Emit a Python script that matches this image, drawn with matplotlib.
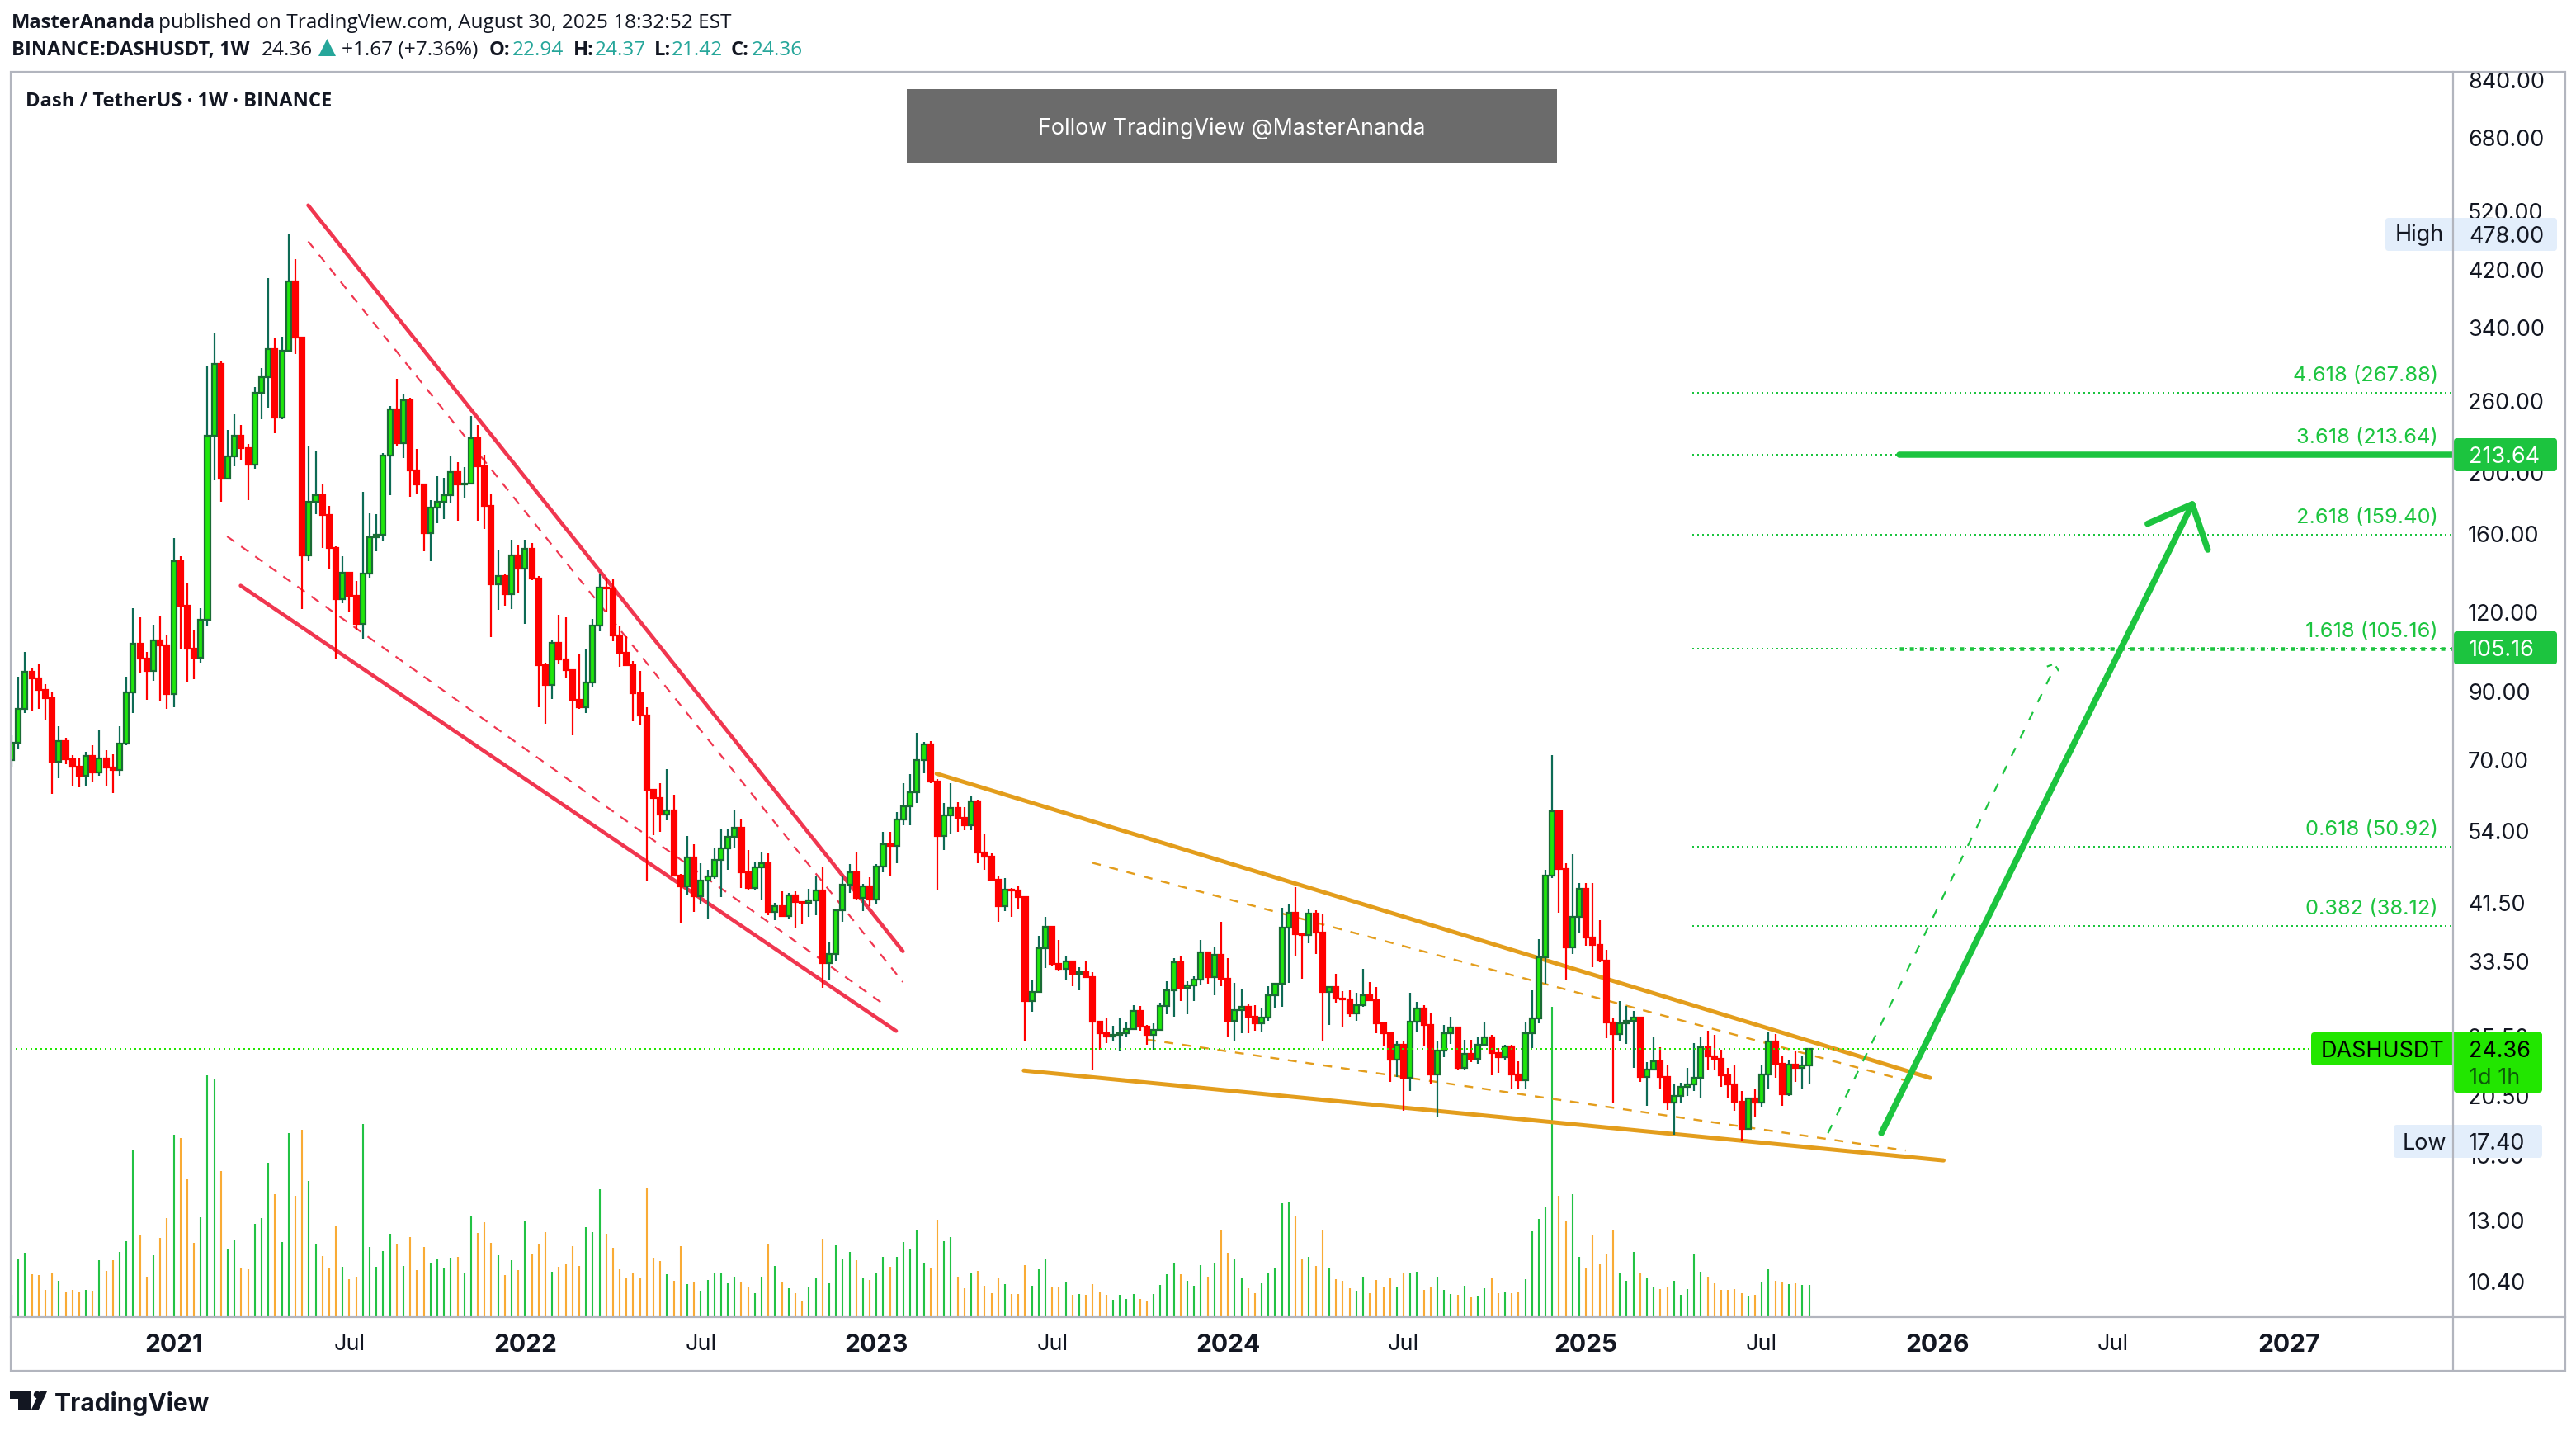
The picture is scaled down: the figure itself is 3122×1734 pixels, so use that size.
import numpy as np
import matplotlib
matplotlib.use('Agg')
import matplotlib.pyplot as plt
from matplotlib.patches import Rectangle, FancyBboxPatch, Polygon, Circle

# weekly candles, DASHUSDT
closes = [74.6,84.4,96.6,94.4,90.5,87.7,69.5,75,70.2,68.3,
    66,71,66.8,70.5,68.2,67.4,74.3,89.7,107,101.4,
    96.9,108.4,106.6,89.1,145,123,105.3,101.7,117,229,
    298,195.5,212.6,229,219,206,267.5,284,314,245,
    312,403,328,148,180,184.5,171.5,152,126,139,
    127.5,115,138.5,158,159.5,213,252,223,261,202,
    191.5,160.5,176,180,184.5,200.5,191.5,192.5,227,205,
    177,133,137,128.5,148,141,151.5,136,99,92,
    107.5,101,97.3,87.3,85,92.9,114.5,131.5,131,110.4,
    103.5,99,89.4,82.4,62.7,61,57.4,58.3,45.9,44.1,
    49,42.5,45,45.8,48.6,50.7,52.9,54.7,46.5,43.8,
    47.3,48,40.2,41,39.6,42.7,41.6,41.5,41.9,43.4,
    33.3,34.4,40.4,44.4,46.4,42.3,44.1,42,47.4,51.4,
    51.2,56.4,59.1,62.2,70,74.1,64.8,53,57.2,58.8,
    56.6,55.2,60.2,49.9,49.2,45.2,41,43.6,43.5,42.4,
    29,30,35.2,38,33.2,32.6,33.5,32,32.2,31.7,
    26.9,25.8,25.5,25.6,25.8,26.2,28,26.4,25.6,26.1,
    28.5,30.2,33.4,30.4,30.7,31.4,34.7,31.7,34.3,31.5,
    27,28.1,28.4,27.4,26.7,27.3,29.6,30.9,37.9,40,
    37,36.9,39.9,37.3,30,30.5,29.3,29.2,27.7,28.6,
    29.6,29.1,26.7,25.8,23.4,24.7,21.9,26.9,28.2,26.6,
    22.2,24.2,25.8,26.3,22.7,23.9,23.5,24.7,25.4,24,
    23.6,24.6,22.2,21.7,25.8,27.2,34,45.9,58,47,
    35.3,39.5,43.7,36.6,35.6,33.6,26.8,25.7,26.7,27,
    27.3,22,22.6,23.3,22,20,20.5,21.2,21.4,21.9,
    24.5,23.7,23.5,22.1,21.4,20.1,18.2,20.3,20,22.2,
    25,23.1,20.6,23,22.69,22.94,24.36]
highs = [76.7,94.9,104,97.8,99.6,92.4,90,79.3,76,71.2,
    70.7,72.2,74,77.9,72.6,71.5,79.3,94.9,122,118,
    104,114.8,118.7,110.4,157.5,147.5,133.4,112.3,122,296,
    334,301,234,248,238,222,274,293,407,328,
    329,478,437,328,220,217,192,177,153,147.5,
    139,134.5,186.5,172.5,172,215,255,282,266,263,
    218,191.5,181,197.5,196.5,212.5,208,204,246,238,
    213.5,185,150.5,138.5,156.5,154,156.5,154.5,137,100,
    108.5,119,118,97.3,103,105,117.4,138,136.5,135.5,
    114.5,110,100.4,97,85,63,64.4,67.7,61.7,46.2,
    53.1,51.4,48,46.9,50.8,54.4,54.4,58.3,56.5,50.4,
    48.2,49.9,49.8,41.5,43.3,43,43.3,41.8,43.7,45.9,
    47.3,36,40.7,45.9,47.8,50.1,44.5,45.6,47.8,53.9,
    53.8,57.8,64.4,66.5,77.3,74.7,75,65.3,59.9,64.4,
    60,58.9,61.4,60.6,53.4,49.8,45.7,45.5,43.9,44.1,
    42.5,31.4,36.8,39.4,38.2,36.3,34.1,33.6,32.8,33.5,
    32.2,27,27.3,26.5,27.2,26.9,28.6,28.5,26.6,26.7,
    28.8,31.2,33.9,34.2,31.2,31.8,36.3,34.8,35.3,38.8,
    33.9,31,30.3,28.7,28.6,28.3,30.6,31,40.8,41.4,
    44,37.3,40.5,40.4,39.9,30.6,32,30.1,30.2,29.9,
    32.6,31.1,30.5,26.9,25.8,25,25,29.9,28.9,28.6,
    27.8,25,26.6,27.4,26.4,25.2,25.2,25.5,26.8,25.6,
    24.4,24.7,24.7,23.3,26.9,30.2,36.4,46.8,71.2,58,
    48,49.6,44.6,44.7,44.6,39,35,27.2,29,28.5,
    28,27.4,23.2,25.5,24.5,23,21.4,21.5,22.7,24.9,
    25.4,26,25.6,24.3,22.7,22.9,20.9,20.4,21,23,
    25.9,25.7,23.7,23.4,24.2,23.8,24.37]
lows = [68.3,73,83.2,83.8,84.5,81.2,61.9,65.5,69,63.7,
    63.4,63.7,64.8,66,63.5,62,66.1,74,83,96.3,
    87.3,93.6,86.6,84.4,84.8,105.3,93.3,94,100,114.3,
    194.6,180,195,205,209,181,203,243,254,231,
    243,312,309,121.5,145,172,151.8,141,101,124,
    120,112.6,109,136.5,150,156,184.5,221,211,183,
    185.5,150,145,166.5,169,179,168,182,192.5,168,
    163,109.6,121,123,121.5,129,115,135,84.8,80,
    87.6,99.4,94.4,76.7,84.4,83.2,91.5,112,120.5,108,
    98.5,98.6,80.6,79.6,44.9,53.2,53.8,56.2,45.9,38.5,
    42.8,40.2,41.4,39.2,45.3,42.4,46.8,50.8,43.9,43.5,
    43.6,42.1,39.7,39,39.5,39.2,37.9,38.4,39.5,39.7,
    30.4,31.4,33.5,38.7,43.1,42,40.3,41,41.4,46.5,
    45.8,48,55.2,55.1,59.9,66.7,64.4,43.4,50.4,53.4,
    53.9,54.2,54.2,48,46.8,45,38.8,40.3,39.4,40.7,
    25,27.9,29.9,32.7,32.9,32.4,31.4,30.6,30.2,31.6,
    22.6,24.3,24.9,25,24.2,25.5,26.1,26,24.7,24.3,
    26,27.6,27.4,29,27.6,29,30.7,30.9,29.6,30.6,
    25.5,25.1,25.8,25.8,26,25.9,27,28.2,28.4,31,
    34.1,31.5,35.8,34.4,25,26.6,28.8,26.4,27.4,27,
    28.4,29,25.8,24.6,21.6,22,19.4,20.9,25.9,24.6,
    21.4,19,23.6,24.8,22.6,22.6,23.2,23.1,24.6,22.1,
    22.3,23.4,21,21.1,21.1,24.4,26.7,30.9,45.5,40,
    31.4,34.5,37.1,35.5,32.8,33.4,25.3,20,25,24.8,
    22.7,21.6,19.8,22.5,21.1,19.5,17.8,20,20.5,20.9,
    20.4,22.6,22.6,21.2,20.3,19.4,17.4,18.1,19,19.7,
    21.1,21.9,19.8,20.5,21.6,21.1,21.42]
# relative volume, no scale on the chart
volumes = [80,210,233,155,152,98,162,132,90,98,
    90,98,95,207,168,207,237,275,605,297,
    147,225,288,360,663,651,501,270,363,879,
    867,531,246,282,177,174,339,360,561,447,
    273,669,441,681,495,267,222,177,330,183,
    138,147,702,255,183,240,303,267,186,291,
    171,255,195,213,177,216,219,162,369,306,
    345,270,225,153,207,171,348,228,264,309,
    165,183,192,258,186,327,309,465,303,252,
    174,144,159,144,471,216,204,156,132,258,
    120,126,96,135,159,162,123,147,129,108,
    87,147,267,186,129,105,87,57,111,144,
    285,123,261,213,237,207,141,135,159,219,
    183,219,273,249,318,198,177,354,276,291,
    147,105,159,168,114,87,141,120,84,84,
    189,114,174,210,111,111,126,81,84,81,
    120,93,81,63,81,66,84,66,57,84,
    117,156,195,156,132,114,189,147,198,318,
    234,210,141,105,87,123,159,177,414,417,
    366,210,219,186,318,180,138,132,105,96,
    147,87,135,111,141,108,162,159,165,99,
    111,147,99,84,81,114,72,78,105,144,
    87,93,87,90,138,312,357,402,1128,441,
    348,447,219,180,297,192,228,318,162,132,
    237,162,141,111,102,108,132,81,102,228,
    165,147,123,99,99,102,87,78,81,126,
    174,132,129,120,123,117,117]
opens = [70.0] + closes[:-1]

tick_weeks = [24, 50, 76, 102, 128, 154, 180, 206, 233, 259, 285, 311, 337]
tick_names = ['2021', 'Jul', '2022', 'Jul', '2023', 'Jul', '2024', 'Jul', '2025', 'Jul', '2026', 'Jul', '2027']
price_ticks = [840, 680, 520, 420, 340, 260, 200, 160, 120, 90, 70, 54, 41.5, 33.5, 25.5, 20.5, 16.5, 13, 10.4]
fib_levels = [50.92, 38.12, 105.16, 159.40, 213.64, 267.88]
fib_names = ['0.618', '0.382', '1.618', '2.618', '3.618', '4.618']

# drawings: (week, price) anchors
red_upper = [(43.9, 531.6), (131.9, 34.8)]
red_lower = [(33.9, 132.4), (130.9, 26.0)]
red_mid_upper = [(43.9, 466), (131.9, 31.1)]
red_mid_lower = [(31.9, 158.5), (129, 28.7)]
orange_upper = [(136.9, 66.6), (283.9, 21.9)]
orange_lower = [(149.8, 22.5), (285.9, 16.2)]
orange_mid_upper = [(159.9, 48.1), (280.3, 21.7)]
orange_mid_lower = [(168, 25.2), (280.3, 16.8)]
arrow_main = [(276.7, 17.9), (322.7, 178.3)]
arrow_head = [(316.1, 166), (322.7, 178.3), (325.0, 151)]
arrow_dash = [(268.8, 17.9), (302.0, 96.5)]
arrow_dash_head = [(301.2, 98.5), (302.3, 99.5), (303.2, 95.9)]
target_start_week = 279.4

W, H = 3122, 1734
DPI = 200
px = 72.0 / DPI  # one image pixel in points

GREEN = '#1cc43f'
LIVE = '#22e600'
INK = '#131722'
RED = '#f0364f'
ORANGE = '#e39d1c'
BORDER = '#b2b5be'
AXFONT = ['Inter', 'DejaVu Sans']
HEADFONT = ['Open Sans', 'DejaVu Sans']

fig = plt.figure(figsize=(W / DPI, H / DPI), dpi=DPI, facecolor='white')
L, R, T, B = 13, 2973, 87, 1596
pos = [L / W, 1 - B / H, (R - L) / W, (B - T) / H]

week = np.arange(len(closes))
week_lim = (-0.12, 361.3)

# volume pane sits behind the price pane
ax_vol = fig.add_axes(pos, zorder=1)
ax_vol.set_xlim(week_lim)
ax_vol.set_ylim(0, (B - T) * 3)
ax_vol.axis('off')
up = np.array(closes) >= np.array(opens)
vol_colors = [('#22c244' if u else '#f9ab35') for u in up]
ax_vol.vlines(week, 0, volumes, colors=vol_colors, lw=2.1 * px)

ax = fig.add_axes(pos, zorder=2)
ax.patch.set_visible(False)
ax.set_yscale('log')
ax.set_xlim(week_lim)
ax.set_ylim(9.137, 866)
for s in ax.spines.values():
    s.set_visible(False)

ax.yaxis.tick_right()
ax.set_yticks(price_ticks)
ax.set_yticklabels(['%.2f' % p for p in price_ticks], fontsize=27 * px, color=INK, family=AXFONT)
ax.minorticks_off()
ax.tick_params(axis='y', length=0, pad=18 * px)
ax.set_xticks(tick_weeks)
ax.set_xticklabels(tick_names, fontsize=27 * px, color=INK, family=AXFONT)
for lab, name in zip(ax.get_xticklabels(), tick_names):
    if name != 'Jul':
        lab.set_fontweight('bold')
        lab.set_fontsize(30 * px)
ax.tick_params(axis='x', length=0, pad=20 * px)


def draw_line(points, color, width, style='-', z=3):
    xs, ys = zip(*points)
    return ax.plot(xs, ys, color=color, lw=width * px, ls=style, solid_capstyle='round',
                   solid_joinstyle='round', zorder=z, clip_on=True)


draw_line(red_upper, RED, 4.6)
draw_line(red_lower, RED, 4.6)
draw_line(red_mid_upper, RED, 2.2, (0, (5, 4.5)))
draw_line(red_mid_lower, RED, 2.2, (0, (5, 4.5)))
draw_line(orange_upper, ORANGE, 5)
draw_line(orange_lower, ORANGE, 5)
draw_line(orange_mid_upper, ORANGE, 2.4, (0, (4.5, 4.5)))
draw_line(orange_mid_lower, ORANGE, 2.4, (0, (4.5, 4.5)))

# fib levels
fib_start = 248.7
for level, name in zip(fib_levels, fib_names):
    ax.plot([fib_start, week_lim[1]], [level, level], color=GREEN, lw=2 * px,
            ls=(0, (1, 2)), zorder=2)
    ax.annotate('%s (%.2f)' % (name, level), (week_lim[1], level), xytext=(-18 * px, 9 * px),
                textcoords='offset points', ha='right', va='bottom', color=GREEN,
                fontsize=25.5 * px, family=AXFONT)
ax.plot([target_start_week, week_lim[1]], [213.64, 213.64], color=GREEN, lw=7.5 * px, zorder=3,
        solid_capstyle='round')
ax.plot([target_start_week, week_lim[1]], [105.16, 105.16], color=GREEN, lw=4.5 * px, zorder=3,
        ls=(0, (1.1, 1.6)))

# candles
wick_colors = ['#0d6b55' if u else '#ff0000' for u in up]
ax.vlines(week, lows, highs, colors=wick_colors, lw=2.2 * px, zorder=4)
body_low = np.minimum(opens, closes)
body_high = np.maximum(opens, closes)
ax.bar(week, body_high - body_low, bottom=body_low, width=0.74,
       color=['#1fe60c' if u else '#ff0000' for u in up],
       edgecolor=['#1a6b35' if u else '#ff0000' for u in up],
       linewidth=2.2 * px, zorder=5)

ax.plot(week_lim, [24.36, 24.36], color=LIVE, lw=2 * px, ls=(0, (1, 2)), zorder=6)

draw_line(arrow_main, GREEN, 7.5, z=7)
draw_line(arrow_head, GREEN, 7.5, z=7)
draw_line(arrow_dash, GREEN, 2.2, (0, (5, 6)), z=7)
draw_line(arrow_dash_head, GREEN, 2.2, (0, (3, 3)), z=7)

# page furniture in image pixels
ov = fig.add_axes([0, 0, 1, 1], zorder=3)
ov.set_xlim(0, W)
ov.set_ylim(H, 0)
ov.axis('off')
ov.patch.set_visible(False)


def tag(x0, x1, y0, y1, color, z=5):
    ov.add_patch(FancyBboxPatch((x0 + 3, y0 + 3), x1 - x0 - 6, y1 - y0 - 6, boxstyle='round,pad=3,rounding_size=4',
                                fc=color, ec='none', zorder=z))


def label(x, y, s, color=INK, size=27, weight='normal', ha='left', family=AXFONT, z=8):
    return ov.text(x, y, s, color=color, fontsize=size * px, fontweight=weight, ha=ha,
                   va='center_baseline', family=family, zorder=z)


ov.add_patch(Rectangle((2975, 50), 130, 36, fc='white', ec='none', zorder=1))
ov.add_patch(Rectangle((L, T), 3109 - L, 1661 - T, fc='none', ec=BORDER, lw=2.2 * px, zorder=2))
ov.plot([L, 3109], [B, B], color=BORDER, lw=2.2 * px, zorder=2)
ov.plot([R, R], [T, 1661], color=BORDER, lw=2.2 * px, zorder=9)

# banner
ov.add_patch(Rectangle((1099, 108), 788, 89, fc='#6b6b6b', ec='none', zorder=3))
label(1493, 153, 'Follow TradingView @MasterAnanda', color='white', size=26.8, ha='center')

# header
BOLD_SIZE, REG_SIZE = 23.8, 24.4
label(14, 25, 'MasterAnanda', size=BOLD_SIZE, weight='bold', family=HEADFONT)
label(192, 25, 'published on TradingView.com, August 30, 2025 18:32:52 EST', size=REG_SIZE, family=HEADFONT)
label(14, 58, 'BINANCE:DASHUSDT, 1W', size=BOLD_SIZE, weight='bold', family=HEADFONT)
label(317, 58, '24.36', size=REG_SIZE, family=HEADFONT)
ov.add_patch(Polygon([(386, 68), (407, 68), (396.5, 47)], fc='#26a69a', ec='none', zorder=8))
label(414, 58, '+1.67 (+7.36%)', size=REG_SIZE, family=HEADFONT)
for x_key, key, x_val, val in [(593, 'O:', 621, '22.94'), (695, 'H:', 721, '24.37'),
                               (793, 'L:', 814, '21.42'), (886, 'C:', 911, '24.36')]:
    label(x_key, 58, key, size=BOLD_SIZE, weight='bold', family=HEADFONT)
    label(x_val, 58, val, size=REG_SIZE, color='#26a69a', family=HEADFONT)
label(31, 120, 'Dash / TetherUS \u00b7 1W \u00b7 BINANCE', size=BOLD_SIZE, weight='bold', family=HEADFONT)

# price tags
tag(2891, 3099, 264, 304, '#e3eefb')
label(2903, 282, 'High')
label(2992, 284, '478.00')
tag(2974, 3099, 531, 571, GREEN)
label(2992, 551, '213.64', color='white')
tag(2974, 3099, 765, 805, GREEN)
label(2992, 785, '105.16', color='white')
tag(2801, 3081, 1251, 1291, LIVE)
tag(2974, 3081, 1251, 1324, LIVE)
label(2813, 1271, 'DASHUSDT', color='black')
label(2992, 1271, '24.36', color='black')
label(2992, 1304, '1d 1h', color='#0d5a0a')
tag(2901, 3081, 1363, 1403, '#e3eefb')
label(2912, 1383, 'Low')
label(2992, 1383, '17.40')

# TradingView mark
ov.add_patch(Rectangle((12, 1686), 26, 9, fc=INK, ec='none'))
ov.add_patch(Rectangle((22, 1686), 16, 22, fc=INK, ec='none'))
ov.add_patch(Circle((45, 1690), 4.2, fc=INK, ec='none'))
ov.add_patch(Polygon([(48, 1686), (57, 1686), (47, 1708), (38, 1708)], fc=INK, ec='none'))
label(66, 1698, 'TradingView', size=30, weight='bold', family=AXFONT)

fig.savefig('out.png', dpi=DPI, facecolor='white')
